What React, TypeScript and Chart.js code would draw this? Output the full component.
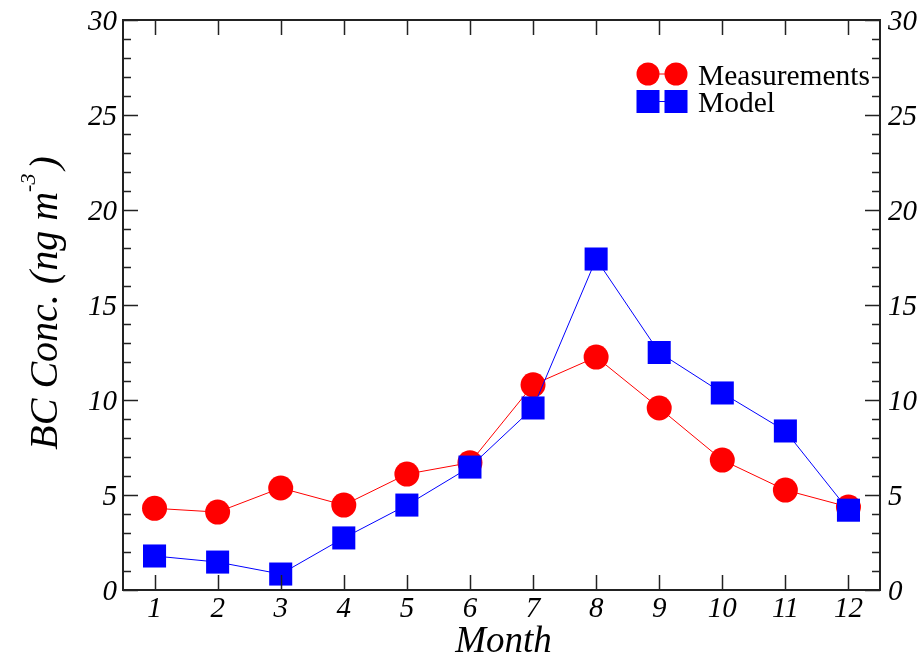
import React, { useEffect, useRef } from "react";
import { Chart, registerables } from "chart.js";

Chart.register(...registerables);

const months = [1, 2, 3, 4, 5, 6, 7, 8, 9, 10, 11, 12];
const measurements = [4.3, 4.1, 5.37, 4.47, 6.1, 6.7, 10.8, 12.26, 9.58, 6.84, 5.26, 4.37];
const model = [1.79, 1.47, 0.84, 2.74, 4.47, 6.47, 9.58, 17.42, 12.5, 10.37, 8.37, 4.2];
const yTickLabels = [0, 5, 10, 15, 20, 25, 30];
const xTickLabels = ["1", "2", "3", "4", "5", "6", "7", "8", "9", "10", "11", "12"];
const legendLabels = ["Measurements", "Model"];
const xTitle = "Month";
const yTitleMain = "BC Conc. (ng m";
const yTitleSup = "-3";
const yTitleClose = ")";

const SERIF = "'Liberation Serif', 'Times New Roman', serif";

const framePlugin = {
  id: "framePlugin",
  afterDatasetsDraw(chart: any) {
    const ctx: CanvasRenderingContext2D = chart.ctx;
    const { left, right, top, bottom } = chart.chartArea;
    const xs = chart.scales.x;
    const ys = chart.scales.y;
    ctx.save();
    ctx.strokeStyle = "#222222";
    ctx.lineWidth = 2;
    ctx.strokeRect(left, top, right - left, bottom - top);
    ctx.lineWidth = 1.5;
    ctx.beginPath();
    for (let v = 0; v <= 30; v++) {
      const y = Math.round(ys.getPixelForValue(v)) + 0.5;
      const len = v % 5 === 0 ? 15 : 8;
      ctx.moveTo(left, y);
      ctx.lineTo(left + len, y);
      ctx.moveTo(right, y);
      ctx.lineTo(right - len, y);
    }
    months.forEach((m) => {
      const x = Math.round(xs.getPixelForValue(m)) + 0.5;
      ctx.moveTo(x, bottom);
      ctx.lineTo(x, bottom - 15);
      ctx.moveTo(x, top);
      ctx.lineTo(x, top + 15);
    });
    ctx.stroke();

    ctx.fillStyle = "#000";
    ctx.textBaseline = "alphabetic";
    ctx.font = `italic 29px ${SERIF}`;
    yTickLabels.forEach((v) => {
      const y = ys.getPixelForValue(v) + 10;
      ctx.textAlign = "right";
      ctx.fillText(String(v), left - 6, y);
      ctx.textAlign = "left";
      ctx.fillText(String(v), right + 8, y);
    });
    ctx.textAlign = "center";
    months.forEach((m, i) => {
      const x = xs.getPixelForValue(m);
      ctx.fillText(xTickLabels[i], x, bottom + 27);
    });

    ctx.font = `italic 37px ${SERIF}`;
    ctx.fillText(xTitle, (left + right) / 2 + 2, bottom + 62);

    // y title rotated with superscript
    ctx.save();
    ctx.translate(57, 303);
    ctx.rotate(-Math.PI / 2);
    const bigFont = `italic 40px ${SERIF}`;
    const supFont = `italic 22px ${SERIF}`;
    ctx.font = bigFont;
    const wMain = ctx.measureText(yTitleMain).width;
    const wClose = ctx.measureText(yTitleClose).width;
    ctx.font = supFont;
    const wSup = ctx.measureText(yTitleSup).width;
    const total = wMain + wSup + 4 + wClose;
    let cx = -total / 2;
    ctx.textAlign = "left";
    ctx.font = bigFont;
    ctx.fillText(yTitleMain, cx, 0);
    cx += wMain;
    ctx.font = supFont;
    ctx.fillText(yTitleSup, cx, -22);
    cx += wSup + 4;
    ctx.font = bigFont;
    ctx.fillText(yTitleClose, cx, 0);
    ctx.restore();

    // legend
    const lx1 = 648, lx2 = 676;
    const ly1 = 74, ly2 = 101.5;
    ctx.strokeStyle = "#ff0000";
    ctx.lineWidth = 1;
    ctx.beginPath();
    ctx.moveTo(lx1, ly1);
    ctx.lineTo(lx2, ly1);
    ctx.stroke();
    ctx.fillStyle = "#ff0000";
    [lx1, lx2].forEach((x) => {
      ctx.beginPath();
      ctx.arc(x, ly1, 11.5, 0, Math.PI * 2);
      ctx.fill();
    });
    ctx.strokeStyle = "#0000ff";
    ctx.beginPath();
    ctx.moveTo(lx1, ly2);
    ctx.lineTo(lx2, ly2);
    ctx.stroke();
    ctx.fillStyle = "#0000ff";
    [lx1, lx2].forEach((x) => {
      ctx.fillRect(x - 11.5, ly2 - 11.5, 23, 23);
    });
    ctx.fillStyle = "#000";
    ctx.font = `29.5px ${SERIF}`;
    ctx.textAlign = "left";
    ctx.fillText(legendLabels[0], 698, 85);
    ctx.fillText(legendLabels[1], 698, 112);
    ctx.restore();
  },
};

export default function App() {
  const ref = useRef<HTMLCanvasElement | null>(null);
  useEffect(() => {
    if (!ref.current) return;
    const chart = new Chart(ref.current, {
      type: "line",
      data: {
        datasets: [
          {
            label: legendLabels[0],
            data: months.map((m, i) => ({ x: m, y: measurements[i] })),
            borderColor: "#ff0000",
            backgroundColor: "#ff0000",
            borderWidth: 1,
            pointStyle: "circle",
            pointRadius: 12.5,
            pointBorderWidth: 0,
            order: 2,
          },
          {
            label: legendLabels[1],
            data: months.map((m, i) => ({ x: m, y: model[i] })),
            borderColor: "#0000ff",
            backgroundColor: "#0000ff",
            borderWidth: 1,
            pointStyle: "rect",
            pointRadius: 16.3,
            pointBorderWidth: 0,
            order: 1,
          },
        ],
      },
      options: {
        responsive: false,
        animation: false,
        layout: { padding: { left: 123, right: 44, top: 20, bottom: 68 } },
        plugins: { legend: { display: false }, tooltip: { enabled: false } },
        scales: {
          x: { type: "linear", min: 0.5, max: 12.5, display: false },
          y: { type: "linear", min: 0, max: 30, display: false },
        },
      },
      plugins: [framePlugin],
    });
    return () => chart.destroy();
  }, []);
  return (
    <div style={{ position: "fixed", left: 0, top: 0, width: 924, height: 658, background: "#fff" }}>
      <canvas ref={ref} width={924} height={658} />
    </div>
  );
}
